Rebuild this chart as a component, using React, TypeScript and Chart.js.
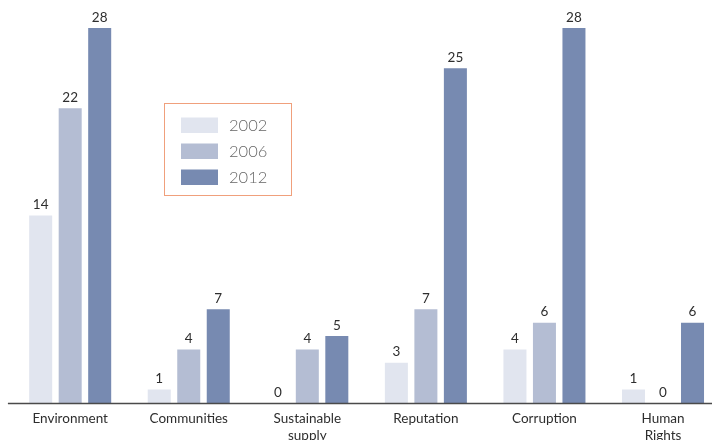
import React, { useEffect, useRef } from "react";
import { Chart, registerables } from "chart.js";

Chart.register(...registerables);

const categories: (string | string[])[] = [
  "Environment",
  "Communities",
  ["Sustainable", "supply"],
  "Reputation",
  "Corruption",
  ["Human", "Rights"],
];
const seriesNames = ["2002", "2006", "2012"];
const values2002 = [14, 1, 0, 3, 4, 1];
const values2006 = [22, 4, 4, 7, 6, 0];
const values2012 = [28, 7, 5, 25, 28, 6];
const seriesColors = ["#e1e5ef", "#b4bdd3", "#778ab1"];

const FONT = "Lato, 'Open Sans', sans-serif";

const decorPlugin = {
  id: "decor",
  afterDatasetsDraw(chart: any) {
    const { ctx, chartArea } = chart;
    ctx.save();
    // baseline
    ctx.strokeStyle = "#4a4a4a";
    ctx.lineWidth = 1.5;
    ctx.beginPath();
    ctx.moveTo(chartArea.left - 3, chartArea.bottom + 0.5);
    ctx.lineTo(chart.width, chartArea.bottom + 0.5);
    ctx.stroke();

    // value labels
    ctx.fillStyle = "#2e2e2e";
    ctx.font = `13.5px ${FONT}`;
    ctx.textAlign = "center";
    ctx.textBaseline = "bottom";
    chart.data.datasets.forEach((ds: any, di: number) => {
      const meta = chart.getDatasetMeta(di);
      meta.data.forEach((bar: any, i: number) => {
        ctx.fillText(String(ds.data[i]), bar.x, bar.y - 4);
      });
    });

    // legend box
    ctx.strokeStyle = "#f0a07c";
    ctx.lineWidth = 1;
    ctx.strokeRect(164.5, 103.5, 127, 92);
    ctx.font = `300 16.5px ${FONT}`;
    ctx.textAlign = "left";
    ctx.textBaseline = "middle";
    chart.data.datasets.forEach((ds: any, di: number) => {
      const y = 117.5 + di * 26;
      ctx.fillStyle = ds.backgroundColor;
      ctx.fillRect(181, y, 37, 15.5);
      ctx.fillStyle = "#666666";
      ctx.fillText(ds.label, 229, y + 8.5);
    });
    ctx.restore();
  },
};

export default function App() {
  const ref = useRef<HTMLCanvasElement>(null);
  useEffect(() => {
    if (!ref.current) return;
    const chart = new Chart(ref.current, {
      type: "bar",
      data: {
        labels: categories as any,
        datasets: [values2002, values2006, values2012].map((d, i) => ({
          label: seriesNames[i],
          data: d,
          backgroundColor: seriesColors[i],
          categoryPercentage: 0.7465,
          barPercentage: 0.78,
        })),
      },
      options: {
        responsive: false,
        animation: false,
        layout: { padding: { left: 10.9, right: 17.7, top: 28, bottom: 0.6 } },
        plugins: { legend: { display: false }, tooltip: { enabled: false } },
        scales: {
          y: { display: false, min: 0, max: 28 },
          x: {
            grid: { display: false, drawTicks: false },
            border: { display: false },
            ticks: {
              padding: 8,
              color: "#2e2e2e",
              font: { family: FONT, size: 13.5, lineHeight: 1.2 },
              maxRotation: 0,
              autoSkip: false,
            },
          },
        },
      },
      plugins: [decorPlugin],
    });
    return () => chart.destroy();
  }, []);
  return (
    <div style={{ position: "fixed", left: 0, top: 0, width: 712, height: 440, overflow: "hidden" }}>
      <canvas
        ref={ref}
        width={740}
        height={452}
        style={{ position: "absolute", left: 0, top: 0, width: 740, height: 452 }}
      />
    </div>
  );
}
